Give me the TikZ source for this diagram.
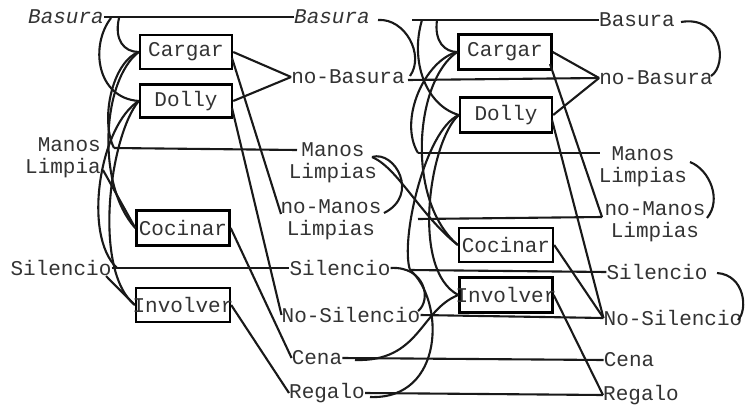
\documentclass[tikz,border=0pt]{standalone}
\usepackage{fontspec}
\setmainfont{Liberation Mono}
\begin{document}
\begin{tikzpicture}[x=1pt,y=-1pt,
  every node/.style={font=\fontsize{21}{22}\selectfont, inner sep=0pt, text=black!80},
  ital/.style={font=\fontsize{21}{22}\selectfont\itshape},
  act/.style={draw=black, line width=2.4pt, minimum width=92pt, minimum height=34pt},
  link/.style={line width=2.1pt, black!90},
  mutex/.style={line width=2.1pt, black!90}]
\useasboundingbox[fill=white] (0,0) rectangle (747,407);

% ---- level 0 propositions
\node[ital] (lBas) at (66,17) {Basura};
\node[align=right, anchor=east] (lMan) at (101,158) {Manos\\Limpia};
\node (lSil) at (61,268) {Silencio};

% ---- level 1 actions
\node[act] (c1) at (186,52) {\makebox[0pt]{Cargar}};
\node[act, minimum height=33pt] (d1) at (186,101) {\makebox[0pt]{Dolly}};
\node[act, minimum width=93pt, minimum height=35pt] (k1) at (183,228) {\makebox[0pt]{Cocinar}};
\node[act, minimum width=94pt] (i1) at (183,305) {\makebox[0pt]{Involver}};

% ---- level 1 propositions
\node[ital] (mBas) at (332,17) {Basura};
\node (mNoBas) at (348,77) {no-Basura};
\node[align=center] (mMan) at (333,163) {Manos\\Limpias};
\node[align=center] (mNoMan) at (331,220) {no-Manos\\Limpias};
\node (mSil) at (340,268) {Silencio};
\node (mNoSil) at (351,315) {No-Silencio};
\node (mCena) at (317,358) {Cena};
\node (mReg) at (327,393) {Regalo};

% ---- level 2 actions
\node[act, minimum width=93pt, minimum height=35pt] (c2) at (505,52) {\makebox[0pt]{Cargar}};
\node[act, minimum height=35pt] (d2) at (506,115) {\makebox[0pt]{Dolly}};
\node[act, minimum width=94pt] (k2) at (506,245) {\makebox[0pt]{Cocinar}};
\node[act, minimum width=93pt, minimum height=35pt] (i2) at (506,295) {\makebox[0pt]{Involver}};

% ---- level 2 propositions
\node (rBas) at (637,20) {Basura};
\node (rNoBas) at (656,78) {no-Basura};
\node[align=center] (rMan) at (643,167) {Manos\\Limpias};
\node[align=center] (rNoMan) at (655,222) {no-Manos\\Limpias};
\node (rSil) at (657,272) {Silencio};
\node (rNoSil) at (673,318) {No-Silencio};
\node (rCena) at (629,360) {Cena};
\node (rReg) at (641,395) {Regalo};

% ---- attachment points
\coordinate (bS1) at (119,18);
\coordinate (bS2) at (111,18);
\coordinate (lMnA) at (114,148);
\coordinate (lMnB) at (103,170);
\coordinate (lSilA) at (117,268);
\coordinate (lSilB) at (106,276);
\coordinate (mMnIn) at (297,150);
\coordinate (mNoMnIn) at (281,214);
\coordinate (c1eff) at (232,58);
\coordinate (d1eff) at (232,108);

\coordinate (bN) at (412,20);
\coordinate (bN2) at (422,20);
\coordinate (bN3) at (437,20);
\coordinate (nbN) at (408,80);
\coordinate (mnN) at (418,153);
\coordinate (nmN) at (418,219);
\coordinate (sN) at (410,270);
\coordinate (mBasOut) at (378,20);
\coordinate (mNbEnd) at (410,76);
\coordinate (mMnOut) at (372,157);
\coordinate (mNmOut) at (384,213);
\coordinate (mNsEnd) at (418,311);
\coordinate (mCenaOut) at (355,360);
\coordinate (mRegOut) at (370,397);
\coordinate (rMnIn) at (600,153);
\coordinate (rNmIn) at (602,217);
\coordinate (c2eff) at (550,64);
\coordinate (d2eff) at (552,120);
\coordinate (rBasOut) at (681,22);
\coordinate (rNbEnd) at (711,76);
\coordinate (rMnOut) at (690,162);
\coordinate (rNmOut) at (707,218);
\coordinate (rSilOut) at (717,273);
\coordinate (rNsEnd) at (738,320);

% ---- level 0 -> 1: persistence lines
\draw[link] (lBas.east) -- (mBas.west);
\draw[link] (lMnA) -- (mMnIn);
\draw[link] (lSil.east) -- (mSil.west);
% preconditions
\draw[link] (lMnB) -- (k1.west);
\draw[link] (lSilB) -- (i1.west);
% effects
\draw[link] (c1.east) -- (mNoBas.west);
\draw[link] (d1.east) -- (mNoBas.west);
\draw[link] (c1eff) -- (mNoMnIn);
\draw[link] (d1eff) -- (mNoSil.west);
\draw[link] (k1.east) -- (mCena.west);
\draw[link] (i1.east) -- (mReg.west);
% mutex arcs among level 1 actions
\draw[mutex] (bS1) .. controls (114,40) and (124,52) .. (c1.west);
\draw[mutex] (bS2) .. controls (90,45) and (96,98) .. (d1.west);
\draw[mutex] (c1.west) .. controls (112,62) and (100,120) .. (lMnA);
\draw[mutex] (c1.west) .. controls (102,80) and (96,185) .. (k1.west);
\draw[mutex] (d1.west) .. controls (100,125) and (82,235) .. (lSilA);
\draw[mutex] (d1.west) .. controls (110,135) and (92,270) .. (i1.west);

% ---- mutex arcs among level 1 propositions
\draw[mutex] (mBasOut) .. controls (405,18) and (425,55) .. (mNbEnd);
\draw[mutex] (mMnOut) .. controls (395,150) and (420,195) .. (mNmOut);
\draw[mutex] (mSil.east) .. controls (425,266) and (432,300) .. (mNsEnd);

% ---- level 1 -> 2: persistence lines
\draw[link] (bN) -- (rBas.west);
\draw[link] (nbN) -- (rNoBas.west);
\draw[link] (mnN) -- (rMnIn);
\draw[link] (nmN) -- (rNmIn);
\draw[link] (sN) -- (rSil.west);
\draw[link] (mNoSil.east) -- (rNoSil.west);
\draw[link] (mCena.east) -- (rCena.west);
\draw[link] (mReg.east) -- (rReg.west);
% preconditions
\draw[link] (mMnOut) .. controls (398,168) and (420,215) .. (k2.west);
% effects
\draw[link] (c2.east) -- (rNoBas.west);
\draw[link] (d2.east) -- (rNoBas.west);
\draw[link] (c2eff) -- (rNmIn);
\draw[link] (d2eff) -- (rNoSil.west);
\draw[link] (k2.east) -- (rNoSil.west);
\draw[link] (i2.east) -- (rReg.west);
% mutex arcs among level 2 actions
\draw[mutex] (bN3) .. controls (434,42) and (445,52) .. (c2.west);
\draw[mutex] (bN2) .. controls (410,60) and (425,105) .. (d2.west);
\draw[mutex] (c2.west) .. controls (425,60) and (398,120) .. (mnN);
\draw[mutex] (c2.west) .. controls (415,80) and (405,200) .. (k2.west);
\draw[mutex] (d2.west) .. controls (425,130) and (400,240) .. (sN);
\draw[mutex] (d2.west) .. controls (430,140) and (410,270) .. (i2.west);
\draw[mutex] (mCenaOut) .. controls (420,362) and (420,310) .. (i2.west);
\draw[mutex] (mRegOut) .. controls (445,400) and (445,300) .. (sN);

% ---- mutex arcs among level 2 propositions
\draw[mutex] (rBasOut) .. controls (722,15) and (728,65) .. (rNbEnd);
\draw[mutex] (rMnOut) .. controls (710,170) and (722,200) .. (rNmOut);
\draw[mutex] (rSilOut) .. controls (745,275) and (748,310) .. (rNsEnd);
\end{tikzpicture}
\end{document}
